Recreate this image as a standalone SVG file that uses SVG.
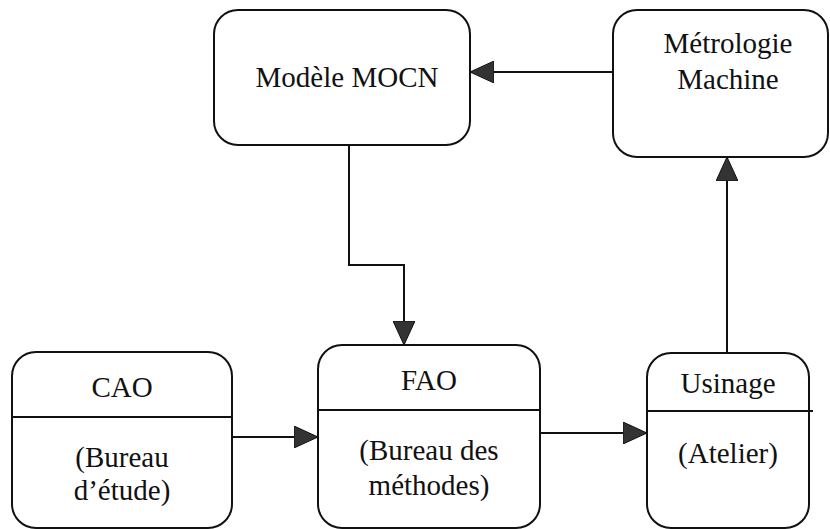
<svg xmlns="http://www.w3.org/2000/svg" width="830" height="529" viewBox="0 0 830 529">
<style>
.box{fill:#fff;stroke:#111;stroke-width:2}
.div{stroke:#111;stroke-width:2}
.con{fill:none;stroke:#111;stroke-width:2}
.t{font-family:'Liberation Serif','Times New Roman',serif;font-size:29px;fill:#111;text-anchor:middle}
</style>
<defs>
<marker id="ah" markerUnits="userSpaceOnUse" markerWidth="26" markerHeight="22" refX="24" refY="11" orient="auto">
<path d="M0,0 L24,11 L0,22 Z" fill="#333" stroke="#111" stroke-width="1"/>
</marker>
</defs>
<rect width="830" height="529" fill="#fff"/>
<g id="connectors">
<path class="con" d="M613,72 L470,72" marker-end="url(#ah)"/>
<path class="con" d="M349,145 L349,265 L404,265 L404,345" marker-end="url(#ah)"/>
<path class="con" d="M727,353 L727,157" marker-end="url(#ah)"/>
<path class="con" d="M232,437 L318,437" marker-end="url(#ah)"/>
<path class="con" d="M540,433 L647,433" marker-end="url(#ah)"/>
</g>
<g id="modele">
<rect class="box" x="214" y="10" width="256" height="135" rx="24"/>
<text class="t" font-family="Liberation Serif, serif" x="347" y="87">Modèle MOCN</text>
</g>
<g id="metrologie">
<rect class="box" x="613" y="10" width="215" height="147" rx="24"/>
<text class="t" font-family="Liberation Serif, serif" x="728" y="53">Métrologie</text>
<text class="t" font-family="Liberation Serif, serif" x="728" y="89">Machine</text>
</g>
<g id="cao">
<rect class="box" x="12" y="352" width="220" height="176" rx="24"/>
<line class="div" x1="12" y1="417" x2="233" y2="417"/>
<text class="t" font-family="Liberation Serif, serif" x="122" y="397">CAO</text>
<text class="t" font-family="Liberation Serif, serif" x="122" y="467">(Bureau</text>
<text class="t" font-family="Liberation Serif, serif" x="122" y="500">d’étude)</text>
</g>
<g id="fao">
<rect class="box" x="318" y="345" width="222" height="183" rx="24"/>
<line class="div" x1="318" y1="410" x2="540" y2="410"/>
<text class="t" font-family="Liberation Serif, serif" x="429" y="390">FAO</text>
<text class="t" font-family="Liberation Serif, serif" x="429" y="460">(Bureau des</text>
<text class="t" font-family="Liberation Serif, serif" x="429" y="495">méthodes)</text>
</g>
<g id="usinage">
<rect class="box" x="647" y="353" width="162" height="175" rx="24"/>
<line class="div" x1="647" y1="411" x2="813" y2="411"/>
<text class="t" font-family="Liberation Serif, serif" x="728" y="393">Usinage</text>
<text class="t" font-family="Liberation Serif, serif" x="728" y="463">(Atelier)</text>
</g>
</svg>
